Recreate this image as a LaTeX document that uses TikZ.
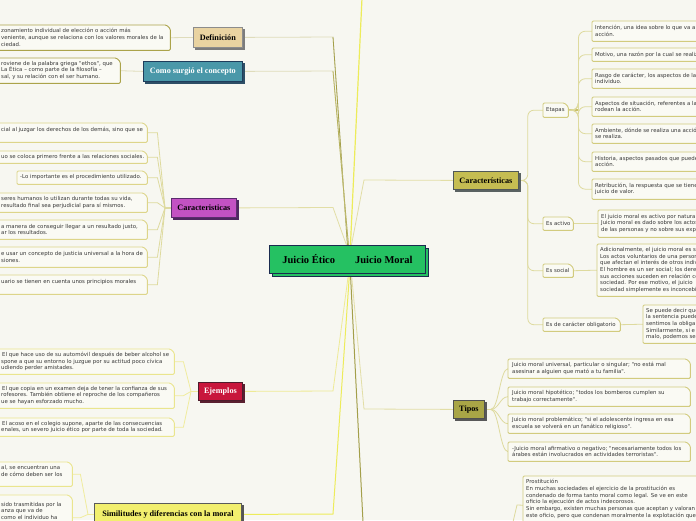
\documentclass[tikz,border=0pt]{standalone}
\usepackage{fontspec}
\setmainfont{Liberation Serif}
\newfontfamily\tf{DejaVu Sans}
\pgfdeclarelayer{paper}
\pgfdeclarelayer{wires}
\pgfsetlayers{paper,wires,main}
\definecolor{bgc}{HTML}{F7F7F1}
\definecolor{boxfill}{HTML}{FAFAF4}
\definecolor{txtc}{HTML}{383838}
\definecolor{bdA}{HTML}{ABA34A}
\definecolor{bdB}{HTML}{DDD58A}
\definecolor{bdY}{HTML}{EAE58E}
\definecolor{bdR}{HTML}{D2CB7E}
\definecolor{cGreen}{HTML}{25C162}
\definecolor{cNavy}{HTML}{1B2B4F}
\definecolor{cDef}{HTML}{E9D3A1}
\definecolor{bDef}{HTML}{8C8C8C}
\definecolor{sDef}{HTML}{7C7C7C}
\definecolor{cComo}{HTML}{4A98A9}
\definecolor{bComo}{HTML}{1F3D5C}
\definecolor{sComo}{HTML}{2E4E66}
\definecolor{cCarL}{HTML}{C352C3}
\definecolor{bCarL}{HTML}{5B2C6E}
\definecolor{sCarL}{HTML}{4E2760}
\definecolor{cEjem}{HTML}{C8163C}
\definecolor{bEjem}{HTML}{4E1C2C}
\definecolor{sEjem}{HTML}{5A2030}
\definecolor{cSimi}{HTML}{F2EF6E}
\definecolor{bSimi}{HTML}{5A5A5A}
\definecolor{sSimi}{HTML}{555555}
\definecolor{cCarR}{HTML}{C5BD52}
\definecolor{bCarR}{HTML}{505858}
\definecolor{sCarR}{HTML}{5A6262}
\definecolor{cTipos}{HTML}{A9A546}
\definecolor{bTipos}{HTML}{505050}
\definecolor{sTipos}{HTML}{585858}
\definecolor{wLight}{HTML}{DFDCBB}
\definecolor{wOlive}{HTML}{A39F4A}
\definecolor{wOlive2}{HTML}{B6B25E}
\definecolor{wPale}{HTML}{E2DEA6}
\definecolor{wYel}{HTML}{EDEC5A}
\definecolor{wYel2}{HTML}{EEEA96}
\definecolor{wSub}{HTML}{DEDA9E}
\definecolor{wSubY}{HTML}{F0EC9E}
\definecolor{cEt}{HTML}{C9C16A}
\tikzset{
 txt/.style={inner sep=0pt, align=left, anchor=west, text=txtc, font=\tf\fontsize{5.4}{6.7}\selectfont},
 mainbox/.style={draw, line width=0.8pt, inner sep=0pt, anchor=north west, font=\bfseries\fontsize{8.2}{9}\selectfont},
 shadowc/.style={preaction={fill=#1, draw=#1, line width=0.8pt, transform canvas={xshift=2pt,yshift=-2pt}}},
 bigshadow/.style={preaction={fill=cGreen, draw=cNavy, line width=0.9pt, transform canvas={xshift=3pt,yshift=-3pt}}},
 wire/.style={line width=0.8pt, draw=#1},
}
\newcommand\tb[8]{%
 \node[inner sep=0pt, minimum width=#5pt, minimum height=#6pt, anchor=north west] (#1) at (#3,#4) {};
 \draw[draw=#2, fill=boxfill, line width=0.9pt, rounded corners=1.2pt] (#1.south west) -- (#1.north west) -- ([xshift=-4pt]#1.north east) -- ([yshift=-4pt]#1.north east) -- (#1.south east) -- cycle;
 \node[txt] (#1t) at ({#7},{#4+#6/2}) {#8};}
\begin{document}
\begin{tikzpicture}[x=1pt,y=-1pt]
\useasboundingbox (0,0) rectangle (696,520);
\begin{pgfonlayer}{paper}\fill[bgc] (0,0) rectangle (696,520);\end{pgfonlayer}
% ---- main nodes
\node[mainbox, fill=cGreen, draw=cNavy, line width=0.9pt, bigshadow, minimum width=156pt, minimum height=28pt, font=\bfseries\fontsize{10.5}{12}\selectfont] (C) at (269,245) {Juicio Ético\hspace{20pt}Juicio Moral};
\node[mainbox, fill=cDef, draw=bDef, shadowc=sDef, minimum width=49pt, minimum height=20pt] (def) at (193,27) {Definición};
\node[mainbox, fill=cComo, draw=bComo, shadowc=sComo, text=white, minimum width=99pt, minimum height=20pt] (como) at (143,61) {Como surgió el concepto};
\node[mainbox, fill=cCarL, draw=bCarL, shadowc=sCarL, minimum width=65pt, minimum height=19pt] (carL) at (171,198) {Caracteristicas};
\node[mainbox, fill=cEjem, draw=bEjem, shadowc=sEjem, text=white, minimum width=44pt, minimum height=18pt] (ejem) at (198,382) {Ejemplos};
\node[mainbox, fill=cSimi, draw=bSimi, shadowc=sSimi, minimum width=147pt, minimum height=22pt] (simi) at (94,503) {Similitudes y diferencias con la moral};
\node[mainbox, fill=cCarR, draw=bCarR, shadowc=sCarR, minimum width=65pt, minimum height=18pt] (carR) at (453,171) {Características};
\node[mainbox, fill=cTipos, draw=bTipos, shadowc=sTipos, minimum width=31pt, minimum height=18pt] (tipos) at (453,400) {Tipos};
% ---- left boxes
\tb{defT}{bdA}{-6}{25}{176}{25}{1}{zonamiento individual de elección o acción más\\veniente, aunque se relaciona con los valores morales de la\\ciedad.}
\tb{comoT}{bdA}{-6}{58}{126}{25}{1}{roviene de la palabra griega "ethos", que\\La Ética – como parte de la filosofía –\\sal, y su relación con el ser humano.}
\tb{cl1}{bdB}{-6}{123}{153}{19}{1}{cial al juzgar los derechos de los demás, sino que se\\\mbox{}}
\tb{cl2}{bdB}{-6}{151}{153}{12}{1}{uo se coloca primero frente a las relaciones sociales.}
\tb{cl3}{bdB}{17}{171}{130}{13}{20}{-Lo importante es el procedimiento utilizado.}
\tb{cl4}{bdB}{-6}{193}{153}{19}{1}{seres humanos lo utilizan durante todas su vida,\\resultado final sea perjudicial para sí mismos.}
\tb{cl5}{bdB}{-6}{220}{153}{19}{1}{a manera de conseguir llegar a un resultado justo,\\ar los resultados.}
\tb{cl6}{bdB}{-6}{247}{153}{20}{1}{e usar un concepto de justicia universal a la hora de\\siones.}
\tb{cl7}{bdB}{-6}{275}{153}{19}{1}{uario se tienen en cuenta unos principios morales\\\mbox{}}
\tb{ej1}{bdY}{-6}{349}{180}{25}{1}{\hspace{1pt}El que hace uso de su automóvil después de beber alcohol se\\spone a que su entorno lo juzgue por su actitud poco cívica\\udiendo perder amistades.}
\tb{ej2}{bdY}{-6}{383}{180}{25}{1}{\hspace{1pt}El que copia en un examen deja de tener la confianza de sus\\rofesores. También obtiene el reproche de los compañeros\\ue se hayan esforzado mucho.}
\tb{ej3}{bdY}{-6}{418}{180}{18}{1}{\hspace{1pt}El acoso en el colegio supone, aparte de las consecuencias\\enales, un severo juicio ético por parte de toda la sociedad.}
\tb{si1}{bdY}{-6}{462}{78}{24}{1}{al, se encuentran una\\de cómo deben ser los\\\mbox{}}
\tb{si2}{bdY}{-6}{495}{78}{45}{1}{sido trasmitidas por la\\anza que va de\\como el individuo ha\\\mbox{}\\\mbox{}}
% ---- right boxes
\tb{etapas}{bdR}{543}{103}{25}{14}{546}{Etapas}
\tb{act}{bdR}{543}{217}{30}{13}{546}{Es activo}
\tb{soc}{bdR}{543}{264}{30}{13}{546}{Es social}
\tb{obl}{bdR}{543}{318}{77}{13}{546}{Es de carácter obligatorio}
\tb{e1}{bdR}{592}{21}{130}{20}{595}{Intención, una idea sobre lo que va a\\acción.}
\tb{e2}{bdR}{592}{48}{130}{13}{595}{Motivo, una razón por la cual se realiza}
\tb{e3}{bdR}{592}{69}{130}{19}{595}{Rasgo de carácter, los aspectos de la\\individuo.}
\tb{e4}{bdR}{592}{97}{130}{19}{595}{Aspectos de situación, referentes a la\\rodean la acción.}
\tb{e5}{bdR}{592}{124}{130}{19}{595}{Ambiente, dónde se realiza una acción\\se realiza.}
\tb{e6}{bdR}{592}{152}{130}{19}{595}{Historia, aspectos pasados que pueden\\acción.}
\tb{e7}{bdR}{592}{179}{130}{20}{595}{Retribución, la respuesta que se tiene\\juicio de valor.}
\tb{actT}{bdR}{598}{210}{130}{27}{601}{El juicio moral es activo por naturale\\Juicio moral es dado sobre los actos\\de las personas y no sobre sus expe}
\tb{socT}{bdR}{597}{244}{130}{52}{600}{Adicionalmente, el juicio moral es s\\Los actos voluntarios de una persona\\que afectan el interés de otros indiv\\El hombre es un ser social; los dere\\sus acciones suceden en relación co\\sociedad. Por ese motivo, el juicio\\sociedad simplemente es inconcebi}
\tb{oblT}{bdR}{643}{305}{80}{38}{646}{Se puede decir que\\la sentencia puede\\sentimos la obliga\\Similarmente, si e\\malo, podemos se}
\tb{t1}{bdR}{508}{359}{182}{19}{512}{Juicio moral universal, particular o singular; "no está mal\\asesinar a alguien que mató a tu familia".}
\tb{t2}{bdR}{508}{387}{182}{19}{512}{Juicio moral hipotético; "todos los bomberos cumplen su\\trabajo correctamente".}
\tb{t3}{bdR}{508}{414}{182}{19}{512}{Juicio moral problemático; "si el adolescente ingresa en esa\\escuela se volverá en un fanático religioso".}
\tb{t4}{bdR}{508}{442}{182}{19}{512}{-Juicio moral afirmativo o negativo; "necesariamente todos los\\árabes están involucrados en actividades terroristas".}
\tb{prost}{bdR}{523}{476}{200}{58}{526}{Prostitución\\En muchas sociedades el ejercicio de la prostitución es\\condenado de forma tanto moral como legal. Se ve en este\\oficio la ejecución de actos indecorosos.\\Sin embargo, existen muchas personas que aceptan y valoran\\este oficio, pero que condenan moralmente la explotación que\\\mbox{}\\\mbox{}}
% ---- connectors
\begin{pgfonlayer}{wires}
\coordinate (hDef) at (333,37);
\coordinate (hComo) at (333,71);
\coordinate (hCar) at (333,207.5);
\coordinate (hEj) at (333,391);
\coordinate (hSi) at (333,514);
\coordinate (hCarR) at (364,180);
\coordinate (hTip) at (364,409);
\coordinate (topEnd) at (362,-2);
\coordinate (botEnd) at (363,522);
\coordinate (pEnd) at (513,522);
\draw[wire=wLight] (def.east) -- (hDef) -- ([xshift=0pt]C.north);
\draw[wire=wOlive] (hDef) -- ([xshift=0pt]C.north);
\draw[wire=wLight] (como.east) -- (hComo) -- ([xshift=1pt]C.north);
\draw[wire=wOlive2] (hComo) -- ([xshift=1pt]C.north);
\draw[wire=wPale] (carL.east) -- (hCar) -- ([xshift=-1pt]C.north);
\draw[wire=wYel, line width=1.2pt] ([xshift=3pt]C.north) -- (topEnd);
\draw[wire=wPale] ([xshift=4pt]C.north) -- (hCarR) -- (carR.west);
\draw[wire=wYel2] (ejem.east) -- (hEj) -- ([xshift=1pt]C.south);
\draw[wire=wYel, line width=1pt] (simi.east) -- (hSi) -- ([xshift=2pt]C.south);
\draw[wire=wOlive, line width=1pt] ([xshift=3pt]C.south) -- (botEnd);
\draw[wire=wPale] ([xshift=4pt]C.south) -- (hTip) -- (tipos.west);
\foreach \n in {1,...,7} \draw[wire=wSub] (carL.west) -- ++(-6,0) -- ([xshift=10pt]cl\n.east) -- (cl\n.east);
\foreach \n in {1,2,3} \draw[wire=wSubY] (ejem.west) -- ++(-7,0) -- ([xshift=9pt]ej\n.east) -- (ej\n.east);
\foreach \n in {1,2} \draw[wire=wSubY] (simi.west) -- ++(-6,0) -- ([xshift=8pt]si\n.east) -- (si\n.east);
\draw[wire=wLight] (defT.east) -- (def.west);
\draw[wire=wLight] (comoT.east) -- (como.west);
\foreach \n in {etapas,act,soc,obl} \draw[wire=wSub, rounded corners=6pt] (carR.east) -- ++(9,0) |- (\n.west);
\draw[wire=cEt, line width=1.6pt] (etapas.east) -- ++(10,0);
\foreach \n in {1,...,7} \draw[wire=wSub, rounded corners=7pt] (etapas.east) -- ++(10,0) |- (e\n.west);
\draw[wire=wSub] (act.east) -- (actT.west);
\draw[wire=wSub] (soc.east) -- (socT.west);
\draw[wire=wSub] (obl.east) -- (oblT.west);
\foreach \n in {1,...,4} \draw[wire=wSub] (tipos.east) -- ++(6,0) .. controls +(8,0) and +(-8,0) .. (t\n.west);
\draw[wire=wSub] (pEnd) -- (517,505) -- (prost.west);
\end{pgfonlayer}
\end{tikzpicture}
\end{document}
